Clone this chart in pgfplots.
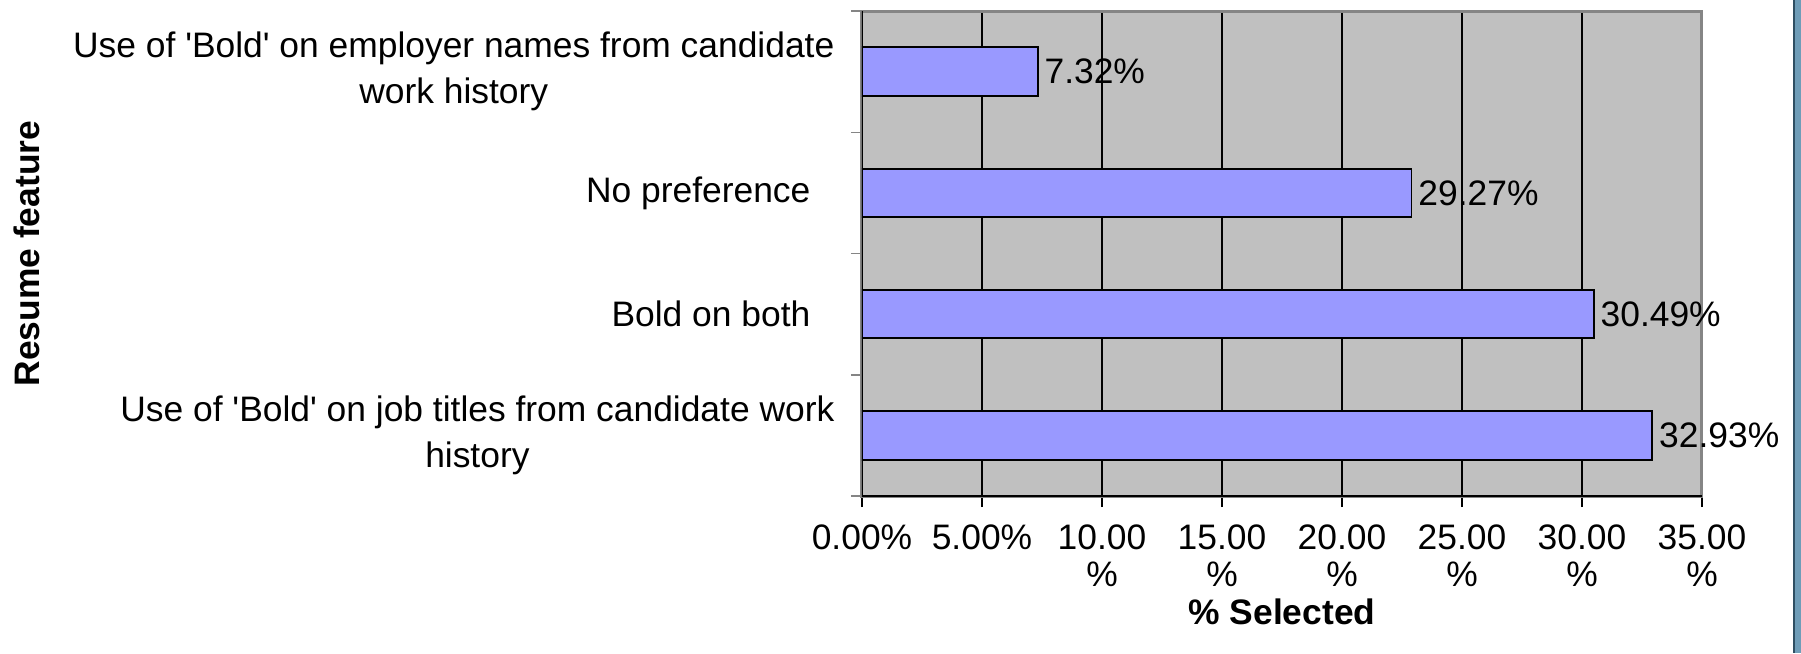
\documentclass[border=0pt]{standalone}
\usepackage{pgfplots}
\pgfplotsset{compat=1.18}
\usepackage{fontspec}
\setmainfont{Liberation Sans}
\definecolor{barfill}{HTML}{9999FF}
\definecolor{plotbg}{HTML}{C0C0C0}
\definecolor{frameg}{HTML}{858585}
\definecolor{stripc}{HTML}{6F9DB8}
\definecolor{stripd}{HTML}{2F4F63}
\begin{document}
\begin{tikzpicture}[font=\fontsize{11.8}{13.5}\selectfont]
\path[use as bounding box] (0,0) rectangle (600.33pt,217.67pt);
\fill[stripc] (597.67pt,0) rectangle (600.33pt,217.67pt);
\fill[stripd] (597.67pt,0) rectangle (598.2pt,217.67pt);
\begin{axis}[
  at={(287.33pt,52.33pt)}, anchor=south west,
  scale only axis, width=280pt, height=161.67pt,
  xbar, bar width=0.4,
  xmin=0, xmax=35, ymin=-0.5, ymax=3.5,
  axis background/.style={fill=plotbg},
  axis line style={draw=frameg, line width=1pt},
  xtick pos=bottom, ytick pos=left,
  xtick={0,5,...,35},
  xticklabels={0.00\%,5.00\%,{10.00\\\%},{15.00\\\%},{20.00\\\%},{25.00\\\%},{30.00\\\%},{35.00\\\%}},
  xticklabel style={align=center, anchor=north, inner sep=0pt, yshift=-5.7pt, font=\fontsize{11.8}{12.3}\selectfont},
  xmajorgrids, major grid style={black, line width=0.35pt},
  x tick style={black, line width=0.4pt},
  tick align=outside, major tick length=3.7pt,
  ytick={-0.5,0.5,...,3.5}, yticklabels={},
  y tick style={frameg, line width=0.5pt},
  extra y ticks={0,1,2,3},
  extra y tick labels={{Use of \textquotesingle Bold\textquotesingle{} on job titles from candidate work\\history},{Bold on both\hspace*{8pt}},{No preference\hspace*{8pt}},{Use of \textquotesingle Bold\textquotesingle{} on employer names from candidate\\work history}},
  extra y tick style={major tick length=0pt, tick style={draw=none}},
  yticklabel style={align=center, anchor=east, inner sep=0pt, xshift=-9pt, font=\fontsize{11.8}{15.3}\selectfont},
  ylabel={\bfseries Resume feature},
  ylabel style={at={(axis description cs:-0.9940,0.5)}, anchor=center},
  xlabel={\bfseries \% Selected},
  xlabel style={at={(axis description cs:0.5,0)}, anchor=center, yshift=-38.7pt},
  point meta=explicit symbolic,
  nodes near coords,
  nodes near coords style={anchor=west, inner sep=2pt, font=\fontsize{11.8}{13.5}\selectfont, black},
]
\addplot[fill=barfill, draw=black, line width=0.6pt] coordinates {(32.93,0) [32.93\%] (30.49,1) [30.49\%] (22.9,2) [29.27\%] (7.32,3) [7.32\%]};
\draw[black, line width=0.45pt] (rel axis cs:0,1) -- (rel axis cs:0,0) -- (rel axis cs:1,0);
\end{axis}
\end{tikzpicture}
\end{document}
